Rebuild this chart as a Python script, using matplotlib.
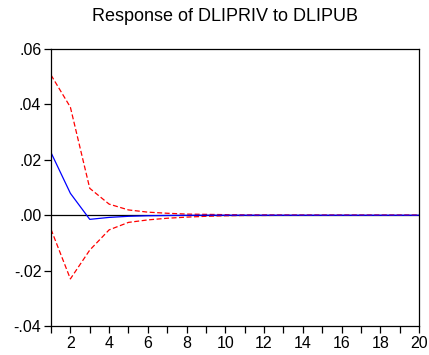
import matplotlib
matplotlib.use("Agg")
import matplotlib.pyplot as plt
from matplotlib.ticker import FixedLocator

plt.rcParams['font.family'] = ['Liberation Sans', 'DejaVu Sans']

# Данные
periods = list(range(1, 21))
response = [0.0226, 0.0079, -0.0015, -0.0008, -0.0004, -0.0002, -0.0001, -0.00005,
            0.0, 0.0, 0.0, 0.0, 0.0, 0.0, 0.0, 0.0, 0.0, 0.0, 0.0, 0.0]
upper = [0.0506, 0.0390, 0.0097, 0.0040, 0.0019, 0.0011, 0.0007, 0.0004,
         0.0003, 0.0002, 0.0001, 0.0001, 0.00005, 0.00003, 0.00002, 0.00001,
         0.0, 0.0, 0.0, 0.0]
lower = [-0.0051, -0.0230, -0.0126, -0.0053, -0.0026, -0.0017, -0.0011, -0.0007,
         -0.0004, -0.0002, -0.0001, -0.0001, -0.00005, -0.00003, -0.00002, -0.00001,
         0.0, 0.0, 0.0, 0.0]

y_ticks = [0.06, 0.04, 0.02, 0.00, -0.02, -0.04]
y_labels = [".06", ".04", ".02", ".00", "-.02", "-.04"]

fig = plt.figure(figsize=(4.29, 3.55), dpi=100)
ax = fig.add_axes([0.1189, 0.0817, 0.8578, 0.7803])

ax.axhline(0, color='black', linewidth=0.9)
ax.plot(periods, upper, color='red', linestyle=(0, (4, 2)), linewidth=0.9)
ax.plot(periods, lower, color='red', linestyle=(0, (4, 2)), linewidth=0.9)
ax.plot(periods, response, color='blue', linewidth=0.9)

ax.set_xlim(1, 20)
ax.set_ylim(-0.04, 0.06)
ax.xaxis.set_major_locator(FixedLocator(list(range(2, 21, 2))))
ax.xaxis.set_minor_locator(FixedLocator(list(range(1, 21, 2))))
ax.set_yticks(y_ticks)
ax.set_yticklabels(y_labels)

ax.tick_params(axis='x', which='both', direction='out', length=5, width=0.9,
               labelsize=11.5, pad=2, top=False)
ax.tick_params(axis='y', direction='out', length=5, width=0.9, labelsize=11.5,
               pad=2, right=False)
for s in ax.spines.values():
    s.set_linewidth(0.9)

title = ax.set_title("Response of DLIPRIV to DLIPUB", fontsize=13, pad=20)
title.set_x(0.472)

fig.savefig("out.png", dpi=100)
